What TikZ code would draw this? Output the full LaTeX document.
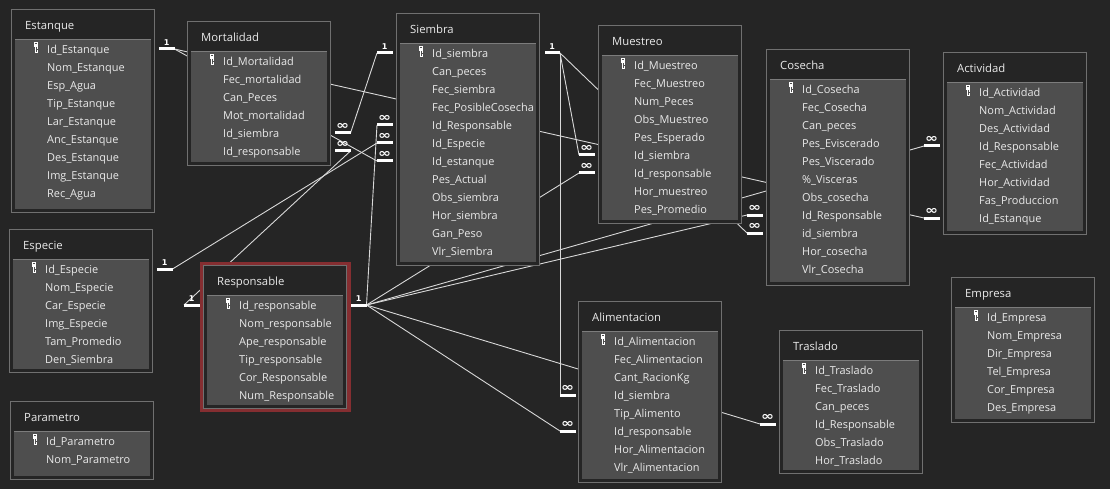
\documentclass[tikz,border=0pt]{standalone}
\usepackage{fontspec}
\setmainfont{Open Sans}
\newfontfamily\symfont{DejaVu Sans}
\usetikzlibrary{backgrounds}
\definecolor{bgc}{HTML}{252525}
\definecolor{framec}{HTML}{707070}
\definecolor{panelc}{HTML}{4E4E4E}
\definecolor{panelt}{HTML}{7C7C7C}
\definecolor{txtc}{HTML}{EAEAEA}
\definecolor{linec}{HTML}{D8D8D8}
\definecolor{redc}{HTML}{852E31}
\tikzset{
  x=1pt,y=-1pt,
  tablebox/.style={draw=framec,line width=1pt,fill=bgc,anchor=north west,inner sep=0pt,minimum width=143pt,outer sep=0pt},
  panelbox/.style={fill=panelc,anchor=north west,inner sep=0pt,minimum width=136pt,outer sep=0pt},
  titletext/.style={anchor=base west,inner sep=0pt,text=txtc,font=\fontsize{11.3}{13}\selectfont},
  rowtext/.style={anchor=base west,inner sep=0pt,text=txtc,font=\fontsize{10.95}{13}\selectfont},
  stubbar/.style={fill=white,inner sep=0pt,minimum width=15.5pt,minimum height=3pt,outer sep=0pt},
  stubtext/.style={text=white,inner sep=0pt,font=\fontsize{8}{9}\symfont\bfseries},
  rel/.style={draw=linec,line width=0.9pt}
}
% key icon
\newcommand\keyicon[2]{%
  \fill[white] (#1-2.2,#2-7.2) rectangle (#1+2.2,#2-2.4);
  \fill[panelc] (#1-0.9,#2-6.1) rectangle (#1+0.9,#2-5.1);
  \fill[white] (#1-1.5,#2-2.4) rectangle (#1+1.7,#2+4);
  \fill[panelc] (#1-0.3,#2-1.6) rectangle (#1+0.4,#2+3);
  \fill[panelc] (#1+1,#2-0.2) rectangle (#1+1.7,#2+0.6);
}
% name, left, top, bottom, title, fields
\newcommand\tbl[6]{%
  \pgfmathsetmacro\thgt{#4-#3}
  \pgfmathsetmacro\phgt{#4-#3-33}
  \node[tablebox,minimum height=\thgt pt] (#1) at (#2,#3) {};
  \node[panelbox,minimum height=\phgt pt] (#1-panel) at (#2+3.5,#3+29.5) {};
  \draw[panelt,line width=.8pt] (#1-panel.north west) -- (#1-panel.north east);
  \node[titletext] (#1-title) at (#2+13.5,#3+20.1) {#5};
  \foreach \f [count=\i from 0] in {#6}{
    \node[rowtext] (#1-row\i) at (#2+35.5,#3+44+18*\i) {\f};
  }
  \pgfmathsetmacro\kx{#2+24.5}
  \pgfmathsetmacro\ky{#3+39.5}
  \keyicon{\kx}{\ky}
}
% name, left x, y, text
\newcommand\stub[4]{%
  \node[stubbar,anchor=west] (#1) at (#2,#3) {};
  \node[stubtext] (#1-t) at (#2+7.7,#3-6.6) {#4};
}
\newcommand\infmark{{\fontsize{12}{12}\selectfont\scalebox{1.3}[1]{∞}}}
\pgfdeclarelayer{conn}
\pgfsetlayers{background,conn,main}
\begin{document}
\begin{tikzpicture}
\path[use as bounding box] (0,0) rectangle (1110,489);
\begin{pgfonlayer}{background}
\fill[bgc] (0,0) rectangle (1110,489);
\end{pgfonlayer}
\fill[redc] (200,262) rectangle (350.5,412);
\tbl{estanque}{11.5}{9.5}{212}{Estanque}{Id\_Estanque,Nom\_Estanque,Esp\_Agua,Tip\_Estanque,Lar\_Estanque,Anc\_Estanque,Des\_Estanque,Img\_Estanque,Rec\_Agua}
\tbl{mortalidad}{187.5}{21.5}{166}{Mortalidad}{Id\_Mortalidad,Fec\_mortalidad,Can\_Peces,Mot\_mortalidad,Id\_siembra,Id\_responsable}
\tbl{siembra}{396.5}{13.5}{265}{Siembra}{Id\_siembra,Can\_peces,Fec\_siembra,Fec\_PosibleCosecha,Id\_Responsable,Id\_Especie,Id\_estanque,Pes\_Actual,Obs\_siembra,Hor\_siembra,Gan\_Peso,Vlr\_Siembra}
\tbl{muestreo}{598.5}{25.5}{223}{Muestreo}{Id\_Muestreo,Fec\_Muestreo,Num\_Peces,Obs\_Muestreo,Pes\_Esperado,Id\_siembra,Id\_responsable,Hor\_muestreo,Pes\_Promedio}
\tbl{cosecha}{766.5}{49.5}{285}{Cosecha}{Id\_Cosecha,Fec\_Cosecha,Can\_peces,Pes\_Eviscerado,Pes\_Viscerado,\%\_Visceras,Obs\_cosecha,Id\_Responsable,id\_siembra,Hor\_cosecha,Vlr\_Cosecha}
\tbl{actividad}{943.5}{52.5}{234.5}{Actividad}{Id\_Actividad,Nom\_Actividad,Des\_Actividad,Id\_Responsable,Fec\_Actividad,Hor\_Actividad,Fas\_Produccion,Id\_Estanque}
\tbl{especie}{9.5}{229.5}{372.5}{Especie}{Id\_Especie,Nom\_Especie,Car\_Especie,Img\_Especie,Tam\_Promedio,Den\_Siembra}
\tbl{parametro}{10.5}{401.5}{479}{Parametro}{Id\_Parametro,Nom\_Parametro}
\tbl{responsable}{203.5}{265.5}{408}{Responsable}{Id\_responsable,Nom\_responsable,Ape\_responsable,Tip\_responsable,Cor\_Responsable,Num\_Responsable}
\tbl{alimentacion}{578.5}{301.5}{482}{Alimentacion}{Id\_Alimentacion,Fec\_Alimentacion,Cant\_RacionKg,Id\_siembra,Tip\_Alimento,Id\_responsable,Hor\_Alimentacion,Vlr\_Alimentacion}
\tbl{traslado}{779.5}{330.5}{473}{Traslado}{Id\_Traslado,Fec\_Traslado,Can\_peces,Id\_Responsable,Obs\_Traslado,Hor\_Traslado}
\tbl{empresa}{951.5}{277.5}{422.5}{Empresa}{Id\_Empresa,Nom\_Empresa,Dir\_Empresa,Tel\_Empresa,Cor\_Empresa,Des\_Empresa}
% relation ends
\stub{sEst}{159}{49}{1}
\stub{sSieL}{377}{53}{1}
\stub{sSieR}{544.5}{53}{1}
\stub{sEsp}{157}{269}{1}
\stub{sRespL}{184}{305}{1}
\stub{sRespR}{351}{305}{1}
\stub{mSie}{335}{133}{\infmark}
\stub{mResp}{335}{151}{\infmark}
\stub{sieResp}{377}{125}{\infmark}
\stub{sieEsp}{377}{143}{\infmark}
\stub{sieEst}{377}{161}{\infmark}
\stub{muSie}{579}{155}{\infmark}
\stub{muResp}{579}{173}{\infmark}
\stub{coResp}{747}{215}{\infmark}
\stub{coSie}{747}{233}{\infmark}
\stub{acResp}{924}{146}{\infmark}
\stub{acEst}{924}{218}{\infmark}
\stub{alSie}{560}{395}{\infmark}
\stub{alResp}{560}{431}{\infmark}
\stub{trResp}{760}{424}{\infmark}
% connectors
\begin{pgfonlayer}{conn}
\draw[rel] (sEst.east) -- (acEst.west);
\draw[rel] (sEst.east) -- (sieEst.west);
\draw[rel] (sSieL.west) -- (mSie.east);
\draw[rel] (sSieR.east) -- (coSie.west);
\draw[rel] (sSieR.east) -- (muSie.west);
\draw[rel] (sSieR.east) -- (alSie.west);
\draw[rel] (sEsp.east) -- (sieEsp.west);
\draw[rel] (sRespL.west) -- (mResp.east);
\draw[rel] (sRespR.east) -- (sieResp.west);
\draw[rel] (sRespR.east) -- (muResp.west);
\draw[rel] (sRespR.east) -- (acResp.west);
\draw[rel] (sRespR.east) -- (coResp.west);
\draw[rel] (sRespR.east) -- (alResp.west);
\draw[rel] (sRespR.east) -- (trResp.west);
\end{pgfonlayer}
\end{tikzpicture}
\end{document}
